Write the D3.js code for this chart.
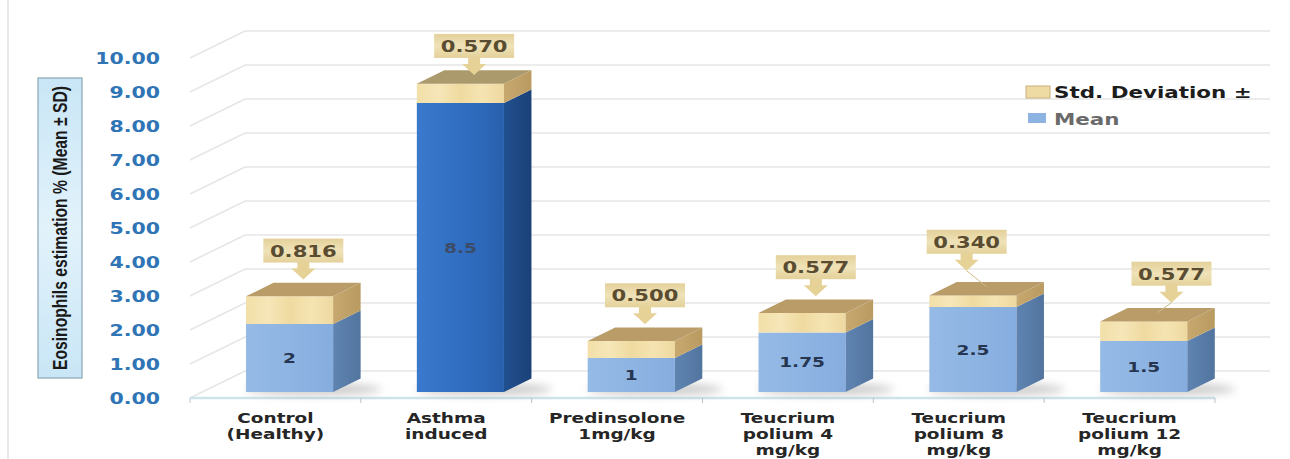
<!DOCTYPE html>
<html>
<head>
<meta charset="utf-8">
<script src="https://cdn.jsdelivr.net/npm/d3@7"></script>
<style>
html,body{margin:0;padding:0;background:#fff;}
svg{display:block;}
</style>
</head>
<body>
<svg id="chart" width="1290" height="459"></svg>
<script>
// ---------- data ----------
const categories = ["Control (Healthy)", "Asthma induced", "Predinsolone 1mg/kg", "Teucrium polium 4 mg/kg", "Teucrium polium 8 mg/kg", "Teucrium polium 12 mg/kg"];
const categoryLines = [["Control", "(Healthy)"], ["Asthma", "induced"], ["Predinsolone", "1mg/kg"], ["Teucrium", "polium 4", "mg/kg"], ["Teucrium", "polium 8", "mg/kg"], ["Teucrium", "polium 12", "mg/kg"]];
const meanValues = [2, 8.5, 1, 1.75, 2.5, 1.5];
const meanLabels = ["2", "8.5", "1", "1.75", "2.5", "1.5"];
const sdValues = [0.816, 0.570, 0.500, 0.577, 0.340, 0.577];
const sdLabels = ["0.816", "0.570", "0.500", "0.577", "0.340", "0.577"];
const yTicks = [0, 1, 2, 3, 4, 5, 6, 7, 8, 9, 10];
const seriesNames = ["Std. Deviation \u00b1", "Mean"];
const yTitle = "Eosinophils estimation % (Mean \u00b1 SD)";

// ---------- layout ----------
const SX = 1.28;             // horizontal text stretch of the original picture
const DEPTH_X = 55, DEPTH_Y = 27;
const svg = d3.select("#chart");
const x = d3.scaleBand().domain(categories).range([190, 1215]).padding(0);
const y = d3.scaleLinear().domain([0, 10]).range([398, 58]);
const P = (px, v, z) => [px + DEPTH_X * z, y(v) - DEPTH_Y * z];
const pts = arr => arr.map(p => p.join(",")).join(" ");
const calloutNudge = {"Teucrium polium 8 mg/kg": [-20, -8], "Teucrium polium 12 mg/kg": [14, -2], "Asthma induced": [0, 8]};

function stext(g, tx, ty, str, opts) {
  return g.append("text")
    .attr("transform", `translate(${tx},${ty}) scale(${opts.sx || SX},1)`)
    .attr("text-anchor", opts.anchor || "middle")
    .attr("font-family", opts.family || "DejaVu Sans, Verdana, sans-serif")
    .attr("font-weight", opts.weight || "bold")
    .attr("font-size", opts.size)
    .attr("fill", opts.fill)
    .text(str);
}

const defs = svg.append("defs");
const grad = (id, stops, x2 = "1", y2 = "0") => {
  const g = defs.append("linearGradient").attr("id", id).attr("x1", 0).attr("y1", 0).attr("x2", x2).attr("y2", y2);
  stops.forEach(s => g.append("stop").attr("offset", s[0]).attr("stop-color", s[1]));
};
grad("meanFront", [[0, "#95bae6"], [0.5, "#8eb4e3"], [1, "#86addf"]]);
grad("meanSide", [[0, "#5f84b1"], [1, "#52759f"]]);
grad("asFront", [[0, "#3a79cb"], [0.6, "#2f6cbf"], [1, "#2960ad"]]);
grad("asSide", [[0, "#21508f"], [1, "#1b4178"]]);
grad("sdFront", [[0, "#f2dfa8"], [0.25, "#f6e6b8"], [0.5, "#efdaa0"], [0.75, "#f5e4b2"], [1, "#eed8a0"]]);
grad("sdSide", [[0, "#c7a96f"], [1, "#b99b62"]]);
grad("callout", [[0, "#e4d19a"], [0.5, "#efe2b8"], [1, "#e4d19a"]], "0", "1");
grad("ybox", [[0, "#c9e6f6"], [0.5, "#e2f2fb"], [1, "#c9e6f6"]]);
defs.append("filter").attr("id", "blur").attr("x", "-50%").attr("y", "-200%").attr("width", "200%").attr("height", "500%")
  .append("feGaussianBlur").attr("stdDeviation", 4);

// outer frame line
svg.append("line").attr("x1", 8).attr("x2", 8).attr("y1", 0).attr("y2", 459).attr("stroke", "#e2e2e2").attr("stroke-width", 1.5);

// ---------- grid (back wall + left wall) ----------
const grid = svg.append("g").attr("stroke", "#e6e6e6").attr("stroke-width", 1.6).attr("fill", "none");
yTicks.forEach(t => {
  const a = P(190, t, 0), b = P(190, t, 1), c = P(1215, t, 1);
  grid.append("polyline").attr("points", pts([a, b, c]));
});

// ---------- x axis ----------
const axisG = svg.append("g");
axisG.append("line").attr("x1", 190).attr("x2", 1215).attr("y1", y(0)).attr("y2", y(0))
  .attr("stroke", "#cfe4ea").attr("stroke-width", 2.5);
[...categories.map(c => x(c)), 1215].forEach(px => {
  axisG.append("line").attr("x1", px).attr("x2", px).attr("y1", y(0)).attr("y2", y(0) + 5)
    .attr("stroke", "#b9c6cc").attr("stroke-width", 1);
});

// ---------- bars ----------
const bw = x.bandwidth();
const z0 = 0.22, z1 = 0.72;
const barsG = svg.append("g");
categories.forEach((cat, i) => {
  const x0 = x(cat) + bw * 0.257, x1 = x0 + bw * 0.51;
  const m = meanValues[i], s = sdValues[i];
  const dark = i === 1;
  // floor shadow
  const sc = P((x0 + x1) / 2 + 10, 0, (z0 + z1) / 2);
  barsG.append("ellipse").attr("cx", sc[0]).attr("cy", sc[1] + 4).attr("rx", (x1 - x0) * 0.78).attr("ry", 6)
    .attr("fill", "#6d6d6d").attr("opacity", 0.35).attr("filter", "url(#blur)");
  const segs = [
    {v0: 0, v1: m, front: dark ? "url(#asFront)" : "url(#meanFront)", side: dark ? "url(#asSide)" : "url(#meanSide)"},
    {v0: m, v1: m + s, front: "url(#sdFront)", side: "url(#sdSide)"}
  ];
  segs.forEach(sg => {
    barsG.append("polygon").attr("points", pts([P(x0, sg.v0, z0), P(x1, sg.v0, z0), P(x1, sg.v1, z0), P(x0, sg.v1, z0)]))
      .attr("fill", sg.front);
    barsG.append("polygon").attr("points", pts([P(x1, sg.v0, z0), P(x1, sg.v0, z1), P(x1, sg.v1, z1), P(x1, sg.v1, z0)]))
      .attr("fill", sg.side);
  });
  const top = m + s;
  barsG.append("polygon").attr("points", pts([P(x0, top, z0), P(x1, top, z0), P(x1, top, z1), P(x0, top, z1)]))
    .attr("fill", dark ? "#ab9a6b" : "#b99c68");
  // mean label
  const mc = P((x0 + x1) / 2, m / 2, z0);
  stext(barsG, mc[0], mc[1] + 5, meanLabels[i], {size: 14.5, fill: dark ? "#3b4b68" : "#263650"});
  // SD callout
  const nudge = calloutNudge[cat] || [0, 0];
  const tc = P((x0 + x1) / 2, top, (z0 + z1) / 2);
  const cx = tc[0] + nudge[0];
  const tip = tc[1] - 10 + nudge[1];
  const boxB = tip - 17, boxT = boxB - 24;
  const cg = barsG.append("g");
  cg.append("polygon").attr("points", pts([[cx - 6, boxB - 1], [cx + 6, boxB - 1], [cx + 6, boxB + 6], [cx + 12, boxB + 6], [cx, tip], [cx - 12, boxB + 6], [cx - 6, boxB + 6]]))
    .attr("fill", "#e6d296");
  if (nudge[0] !== 0) {
    cg.append("line").attr("x1", cx).attr("y1", tip).attr("x2", tc[0]).attr("y2", tc[1] - 2)
      .attr("stroke", "#cdbb88").attr("stroke-width", 1);
  }
  cg.append("rect").attr("x", cx - 40).attr("y", boxT).attr("width", 80).attr("height", 24).attr("fill", "url(#callout)");
  stext(cg, cx, boxT + 18, sdLabels[i], {size: 16.5, fill: "#5a4c30"});
});

// ---------- category labels ----------
const catG = svg.append("g");
categories.forEach((cat, i) => {
  categoryLines[i].forEach((ln, j) => {
    stext(catG, x(cat) + bw / 2, 423 + j * 16, ln, {size: 14, fill: "#262626", sx: 1.32});
  });
});

// ---------- y axis tick labels ----------
const yg = svg.append("g");
yTicks.forEach(t => {
  stext(yg, 160, y(t) + 6, d3.format(".2f")(t), {size: 16, fill: "#2f75b5", anchor: "end"});
});

// ---------- y title ----------
const tg = svg.append("g").attr("transform", "translate(60,228) rotate(-90)");
tg.append("rect").attr("x", -150).attr("y", -22).attr("width", 300).attr("height", 44)
  .attr("fill", "url(#ybox)").attr("stroke", "#8aa6b8").attr("stroke-width", 1.2);
tg.append("text").attr("x", 0).attr("y", 7).attr("text-anchor", "middle")
  .attr("font-family", "Liberation Sans Narrow, Arial Narrow, sans-serif").attr("font-size", 20)
  .attr("font-weight", "bold")
  .attr("fill", "#1a1a1a").attr("textLength", 284).attr("lengthAdjust", "spacingAndGlyphs")
  .text(yTitle);

// ---------- legend ----------
const lg = svg.append("g");
lg.append("rect").attr("x", 1026).attr("y", 86).attr("width", 24).attr("height", 12).attr("fill", "#eedba4").attr("stroke", "#c9b27a").attr("stroke-width", 1);
stext(lg, 1054, 98, seriesNames[0], {size: 16.5, fill: "#1c1c1c", anchor: "start", sx: 1.3});
lg.append("rect").attr("x", 1028).attr("y", 113).attr("width", 18).attr("height", 10).attr("fill", "#8db3e2");
stext(lg, 1054, 125, seriesNames[1], {size: 16.5, fill: "#6a6a6a", anchor: "start", sx: 1.3});
</script>
</body>
</html>
